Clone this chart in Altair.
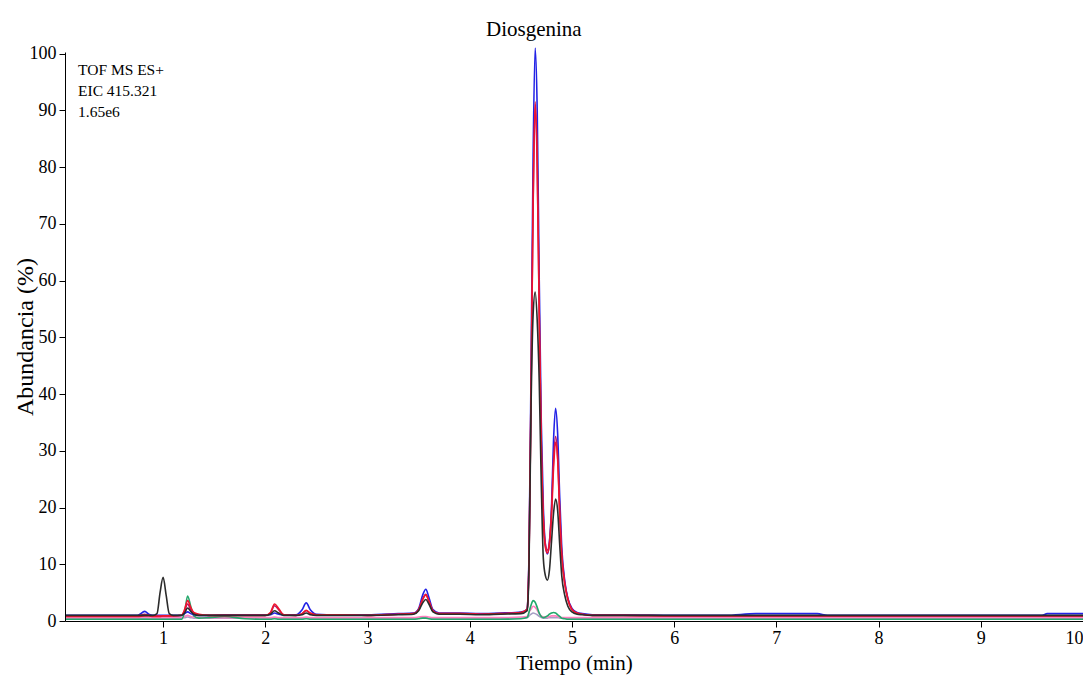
import altair as alt
import pandas as pd

times = [0.05, 0.5, 0.75, 0.82, 0.86, 0.90, 0.94, 0.97, 1.00, 1.03,
         1.06, 1.10, 1.18, 1.21, 1.24, 1.27, 1.30, 1.35, 1.45, 1.60,
         1.80, 2.00, 2.05, 2.09, 2.13, 2.18, 2.30, 2.36, 2.40, 2.44,
         2.50, 2.70, 3.00, 3.30, 3.45, 3.50, 3.54, 3.57, 3.60, 3.64,
         3.70, 3.90, 4.10, 4.30, 4.50, 4.56, 4.57, 4.58, 4.60, 4.62,
         4.64, 4.66, 4.68, 4.70, 4.72, 4.74, 4.76, 4.78, 4.80, 4.82,
         4.84, 4.86, 4.88, 4.90, 4.93, 4.96, 5.00, 5.05, 5.10, 5.20,
         5.50, 6.00, 6.50, 6.80, 7.40, 7.50, 8.00, 9.00, 9.60, 9.65,
         10.00]

blue = [1.0, 1.0, 1.0, 1.7, 1.2, 1.0, 1.0, 1.0, 1.0, 1.0,
        1.0, 1.0, 1.0, 1.3, 1.6, 1.3, 1.1, 1.0, 1.0, 1.1,
        1.1, 1.1, 1.1, 1.4, 1.2, 1.1, 1.1, 2.0, 3.2, 2.0,
        1.2, 1.1, 1.1, 1.3, 1.4, 2.2, 4.6, 5.6, 4.2, 2.0,
        1.4, 1.4, 1.3, 1.4, 1.6, 2.0, 4.5, 12, 45, 82,
        101, 90, 60, 35, 20, 13.5, 11.8, 14, 20, 32,
        37.5, 33, 22, 13, 7, 4, 2.2, 1.5, 1.3, 1.1,
        1.1, 1.0, 1.0, 1.3, 1.3, 1.0, 1.0, 1.0, 1.0, 1.3,
        1.3]

red = [0.8, 0.8, 0.8, 0.9, 0.9, 0.8, 0.8, 0.8, 0.9, 0.9,
       0.9, 0.9, 1.0, 2.0, 3.6, 2.4, 1.5, 1.2, 1.0, 1.0,
       1.0, 1.0, 1.5, 3.0, 2.2, 1.1, 1.0, 1.3, 1.9, 1.4,
       1.1, 1.1, 1.0, 1.2, 1.3, 2.0, 3.8, 4.6, 3.5, 1.8,
       1.3, 1.3, 1.2, 1.3, 1.5, 2.0, 4.2, 11, 41, 74,
       91.5, 81, 54, 31, 18, 13, 12, 13.5, 18.5, 27,
       31.5, 28.5, 19, 11.5, 6.5, 3.8, 2.0, 1.4, 1.2, 1.0,
       1.0, 0.9, 0.9, 0.9, 0.9, 0.9, 0.9, 0.9, 0.9, 0.9,
       0.9]

crimson = [0.9, 0.9, 0.9, 1.2, 1.0, 0.9, 0.9, 0.9, 0.9, 0.9,
           0.9, 0.9, 1.0, 1.8, 3.0, 2.0, 1.4, 1.1, 1.0, 1.0,
           1.0, 1.0, 1.4, 2.7, 2.0, 1.1, 1.0, 1.3, 1.8, 1.3,
           1.1, 1.1, 1.0, 1.2, 1.3, 2.0, 3.9, 4.7, 3.6, 1.8,
           1.3, 1.3, 1.2, 1.3, 1.5, 2.0, 4.2, 11, 41, 73,
           90.5, 80, 54, 31, 18.5, 13.5, 12.5, 14, 19.5, 28.5,
           32.5, 29, 19.5, 12, 6.7, 3.9, 2.1, 1.4, 1.2, 1.0,
           1.0, 0.9, 0.9, 0.9, 0.9, 0.9, 0.9, 0.9, 0.9, 0.9,
           0.9]

black = [1.0, 1.0, 1.0, 1.0, 1.0, 1.0, 1.3, 5.0, 7.7, 4.5,
         1.3, 1.0, 1.0, 1.4, 2.3, 1.7, 1.2, 1.0, 1.0, 1.0,
         1.0, 1.0, 1.2, 1.8, 1.4, 1.0, 1.0, 1.1, 1.4, 1.1,
         1.0, 1.0, 1.0, 1.1, 1.2, 1.8, 3.2, 3.8, 3.0, 1.6,
         1.2, 1.2, 1.1, 1.2, 1.3, 1.8, 3.5, 10, 38, 54,
         58, 53, 42, 24, 11, 8, 7.2, 9, 14, 19,
         21.5, 19.5, 13.5, 8, 4.5, 2.6, 1.6, 1.2, 1.1, 1.0,
         1.0, 1.0, 1.0, 1.0, 1.0, 1.0, 1.0, 1.0, 1.0, 1.0,
         1.0]

green = [0.3, 0.3, 0.3, 0.3, 0.3, 0.3, 0.3, 0.3, 0.3, 0.3,
         0.3, 0.3, 0.3, 1.6, 4.4, 2.6, 0.9, 0.5, 0.6, 0.8,
         0.4, 0.3, 0.3, 0.4, 0.3, 0.3, 0.3, 0.3, 0.4, 0.3,
         0.3, 0.3, 0.3, 0.3, 0.3, 0.4, 0.5, 0.5, 0.4, 0.3,
         0.3, 0.3, 0.3, 0.3, 0.4, 0.6, 0.9, 1.6, 2.8, 3.6,
         3.3, 2.4, 1.4, 0.8, 0.6, 0.7, 0.9, 1.2, 1.4, 1.5,
         1.4, 1.1, 0.8, 0.5, 0.4, 0.3, 0.3, 0.3, 0.3, 0.3,
         0.3, 0.3, 0.3, 0.3, 0.3, 0.3, 0.3, 0.3, 0.3, 0.3,
         0.3]

pink = [0.6, 0.6, 0.6, 0.7, 0.6, 0.6, 0.6, 0.6, 0.6, 0.6,
        0.6, 0.6, 0.6, 0.8, 1.0, 0.8, 0.7, 0.6, 0.6, 0.6,
        0.6, 0.6, 0.6, 0.7, 0.6, 0.6, 0.6, 0.6, 0.7, 0.6,
        0.6, 0.6, 0.6, 0.6, 0.6, 0.7, 0.8, 0.8, 0.7, 0.6,
        0.6, 0.6, 0.6, 0.6, 0.7, 0.8, 1.0, 1.5, 2.1, 2.6,
        2.4, 1.9, 1.3, 0.9, 0.7, 0.7, 0.7, 0.8, 0.9, 0.9,
        0.9, 0.8, 0.7, 0.6, 0.6, 0.6, 0.6, 0.6, 0.6, 0.6,
        0.6, 0.6, 0.6, 0.6, 0.6, 0.6, 0.6, 0.6, 0.6, 0.6,
        0.6]

lavender = [0.5, 0.5, 0.5, 0.5, 0.5, 0.5, 0.5, 0.5, 0.5, 0.5,
            0.5, 0.5, 0.5, 0.6, 0.7, 0.6, 0.5, 0.5, 0.5, 0.5,
            0.5, 0.5, 0.5, 0.5, 0.5, 0.5, 0.5, 0.5, 0.5, 0.5,
            0.5, 0.5, 0.5, 0.5, 0.5, 0.5, 0.6, 0.6, 0.5, 0.5,
            0.5, 0.5, 0.5, 0.5, 0.5, 0.6, 0.7, 0.9, 1.2, 1.4,
            1.3, 1.1, 0.8, 0.6, 0.5, 0.5, 0.5, 0.6, 0.6, 0.6,
            0.6, 0.6, 0.5, 0.5, 0.5, 0.5, 0.5, 0.5, 0.5, 0.5,
            0.5, 0.5, 0.5, 0.5, 0.5, 0.5, 0.5, 0.5, 0.5, 0.5,
            0.5]

series = [
    ("lavender", lavender, "#a79fc4"),
    ("pink", pink, "#ff7fbf"),
    ("green", green, "#22a86b"),
    ("blue", blue, "#2222e6"),
    ("crimson", crimson, "#b81a66"),
    ("red", red, "#f0142c"),
    ("black", black, "#2b2b2b"),
]

title_text = ["Diosgenina"]
title_time = [4.627]
info_lines = ["TOF MS ES+", "EIC 415.321", "1.65e6"]
x_ticks = [1, 2, 3, 4, 5, 6, 7, 8, 9, 10]
y_ticks = [0, 10, 20, 30, 40, 50, 60, 70, 80, 90, 100]

rows = []
for name, vals, _ in series:
    for t, v in zip(times, vals):
        rows.append({"t": t, "v": v, "s": name})
df = pd.DataFrame(rows)

FONT = "Liberation Serif"
xscale = alt.Scale(domain=[0.04, 10], nice=False, zero=False)
yscale = alt.Scale(domain=[0, 100.3], nice=False)

xaxis = alt.Axis(values=x_ticks, format="d", title="Tiempo (min)", grid=False,
                 labelFont=FONT, labelFontSize=18, labelColor="#000",
                 tickColor="#000", domainColor="#000", tickSize=6, labelPadding=2,
                 titleFont=FONT, titleFontSize=21, titleFontWeight="normal",
                 titleColor="#000", titleY=48, titleBaseline="alphabetic",
                 labelFlush=True, labelOverlap=False)
yaxis = alt.Axis(values=y_ticks, format="d", title="Abundancia (%)", grid=False,
                 labelFont=FONT, labelFontSize=18, labelColor="#000",
                 tickColor="#000", domainColor="#000", tickSize=6, labelPadding=3,
                 titleFont=FONT, titleFontSize=24, titleFontWeight="normal",
                 titleColor="#000", titleX=-33, titleY=284.5,
                 titleBaseline="alphabetic", titleAngle=270,
                 labelOverlap=False, labelFlush=False)

X = alt.X("t:Q", scale=xscale, axis=xaxis, title="Tiempo (min)")
Y = alt.Y("v:Q", scale=yscale, axis=yaxis, title="Abundancia (%)")

layers = []
for name, vals, color in series:
    layer = alt.Chart(df).transform_filter(alt.datum.s == name).mark_line(
        color=color, strokeWidth=1.6, interpolate="monotone"
    ).encode(x=X, y=Y)
    layers.append(layer)

title_df = pd.DataFrame({"t": title_time, "label": title_text})
title_layer = alt.Chart(title_df).mark_text(
    font=FONT, fontSize=21, color="#000", baseline="alphabetic", align="center"
).encode(x=X, y=alt.value(-16), text="label:N")

info_layer = alt.Chart(pd.DataFrame({"k": [0]})).mark_text(
    font=FONT, fontSize=15.5, color="#000", baseline="alphabetic", align="left",
    lineHeight=21
).encode(x=alt.value(13), y=alt.value(23), text=alt.value(info_lines))

chart = alt.layer(*layers, title_layer, info_layer).properties(
    width=1018, height=569,
    autosize=alt.AutoSizeParams(type="none"),
    padding={"left": 57, "top": 44, "right": 0, "bottom": 54},
    background="white",
).configure_view(stroke=None)

chart.save("out.html", embed_options={"renderer": "svg", "actions": False})
